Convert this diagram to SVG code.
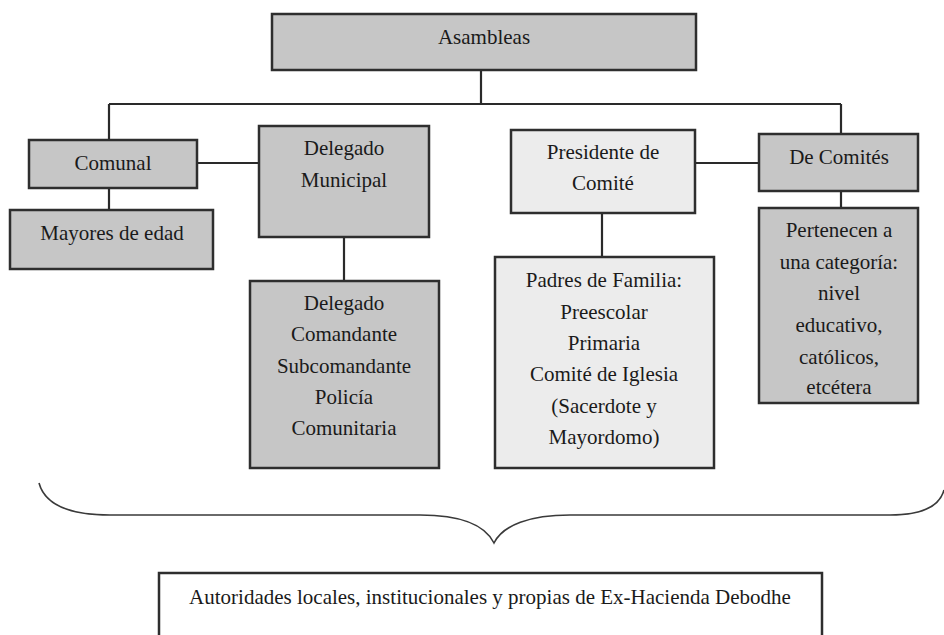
<svg xmlns="http://www.w3.org/2000/svg" width="944" height="635" viewBox="0 0 944 635">
<style>
.dark{fill:#c6c6c6;stroke:#2e2e2e;stroke-width:2.5}
.light{fill:#ececec;stroke:#2e2e2e;stroke-width:2.5}
.white{fill:#ffffff;stroke:#2e2e2e;stroke-width:2.5}
text{font-family:"Liberation Serif","Times New Roman",serif;font-size:21px;fill:#1a1a1a;text-anchor:middle}
.conn{stroke:#2a2a2a;stroke-width:2.2;fill:none}
.brace{stroke:#3a3a3a;stroke-width:1.6;fill:none}
</style>
<rect width="944" height="635" fill="#ffffff"/>
<g id="connectors">
<path class="conn" d="M481,70 V104 M109,104 H841 M109,104 V140 M841,104 V134 M197,163 H259 M109,188 V210 M344,237 V281 M695,163 H759 M602,213 V257 M841,191 V208"/>
</g>
<g id="asambleas"><rect class="dark" x="272" y="14" width="424" height="56"/><text x="484" y="44">Asambleas</text></g>
<g id="comunal"><rect class="dark" x="29" y="140" width="168" height="48"/><text x="113" y="170">Comunal</text></g>
<g id="mayores"><rect class="dark" x="10" y="210" width="203" height="59"/><text x="112" y="240">Mayores de edad</text></g>
<g id="delegado-municipal"><rect class="dark" x="259" y="126" width="170" height="111"/><text x="344" y="155">Delegado</text><text x="344" y="187">Municipal</text></g>
<g id="delegado"><rect class="dark" x="250" y="281" width="189" height="187"/>
<text x="344" y="310">Delegado</text><text x="344" y="341">Comandante</text><text x="344" y="373">Subcomandante</text><text x="344" y="404">Policía</text><text x="344" y="435">Comunitaria</text></g>
<g id="presidente"><rect class="light" x="511" y="130" width="184" height="83"/><text x="603" y="159">Presidente de</text><text x="603" y="190">Comité</text></g>
<g id="padres"><rect class="light" x="495" y="257" width="219" height="211"/>
<text x="604" y="287">Padres de Familia:</text><text x="604" y="319">Preescolar</text><text x="604" y="350">Primaria</text><text x="604" y="381">Comité de Iglesia</text><text x="604" y="413">(Sacerdote y</text><text x="604" y="444">Mayordomo)</text></g>
<g id="de-comites"><rect class="dark" x="759" y="134" width="159" height="57"/><text x="839" y="164">De Comités</text></g>
<g id="pertenecen"><rect class="dark" x="759" y="208" width="159" height="195"/>
<text x="839" y="237">Pertenecen a</text><text x="839" y="269">una categoría:</text><text x="839" y="300">nivel</text><text x="839" y="332">educativo,</text><text x="839" y="364">católicos,</text><text x="839" y="394">etcétera</text></g>
<g id="brace"><path class="brace" d="M39,483 C45,505 70,515 110,515 L420,515 C460,515 485,525 494,543 C503,525 530,515 570,515 L890,515 C925,515 940,505 944,490"/></g>
<g id="autoridades"><rect class="white" x="159" y="573" width="663" height="75"/><text x="490" y="604">Autoridades locales, institucionales y propias de Ex-Hacienda Debodhe</text></g>
</svg>
